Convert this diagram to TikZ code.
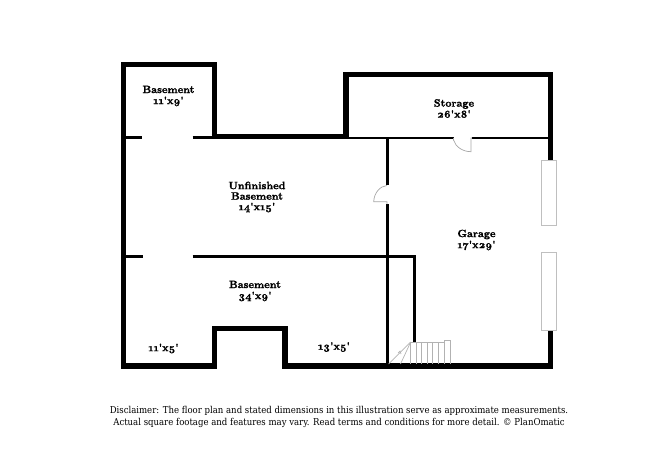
\documentclass[tikz,border=0pt]{standalone}
\usepackage{fontspec}
\newfontfamily\roomfont{Latin Modern Roman}[Numbers=OldStyle,BoldFeatures={FakeBold=1.6}]
\newfontfamily\discfont{DejaVu Serif Condensed}
\tikzset{
  thick wall/.style={draw=black,line width=5.2pt,line cap=butt,line join=miter},
  thin wall/.style={draw=black,line width=2.8pt,line cap=butt},
  door/.style={draw=black!35,line width=0.7pt},
  stair/.style={draw=black!30,line width=0.7pt},
  win/.style={draw=black!25,fill=white,line width=0.8pt},
  room/.style={font=\roomfont\bfseries\fontsize{10.6}{10.5}\selectfont,align=center,inner sep=0pt,text=black},
  disc/.style={font=\discfont\fontsize{9.5}{12.5}\selectfont,align=center,inner sep=0pt,text=black}
}
\begin{document}
\begin{tikzpicture}[x=1pt,y=-1pt]
\useasboundingbox (0,0) rectangle (650,473);
% outer walls
\draw[thick wall] (214.3,136.6) -- (214.3,64.2) -- (123.3,64.2) -- (123.3,366) -- (214.3,366) -- (214.3,328.2) -- (285,328.2) -- (285,366) -- (550.8,366) -- (550.8,330);
\draw[thick wall] (211.7,136.6) -- (345.9,136.6) -- (345.9,74.8) -- (550.8,74.8) -- (550.8,160.5);
% thin walls
\draw[thin wall] (126,137.8) -- (142,137.8);
\draw[thin wall] (192.5,137.8) -- (212,137.8);
\draw[thin wall] (348,138) -- (453.5,138);
\draw[thin wall] (471.5,138) -- (548.5,138);
\draw[thin wall] (387.7,138) -- (387.7,185);
\draw[thin wall] (387.7,204) -- (387.7,364);
\draw[thin wall] (126,256.4) -- (142.5,256.4);
\draw[thin wall] (192.7,256.4) -- (415.6,256.4);
\draw[thin wall] (414.2,255) -- (414.2,341.5);
% doors
\draw[door] (453.5,138) -- (453.5,140) .. controls (455.5,147) and (463,151.7) .. (471,151.7) -- (471,138) -- (472,138);
\draw[door] (387,185.5) .. controls (380,186) and (374,193) .. (373.7,201.7) -- (387,201.7) -- (387,204);
% windows
\draw[win] (541,160.5) rectangle (556.7,225.7);
\draw[win] (541,252) rectangle (556.7,330.3);
% stairs
\draw[stair] (410.7,342) -- (444,342);
\draw[stair] (444,340.3) -- (450,340.3);
\foreach \sx in {410.7,416,421.7,427.3,432.7,438.3,444}{
  \draw[stair] (\sx,342) -- (\sx,364);
}
\draw[stair] (450,340.3) -- (450,364);
\draw[stair] (444,340.3) -- (444,342);
\draw[stair] (410.7,342) -- (388.5,364);
\draw[stair] (410.7,342) -- (400.5,364);
\draw[stair] (398,353) -- (400,351) -- (401,354);
% labels
\node[room] (r1) at (168.5,96) {Basement\\[0.5pt]11'x9'};
\node[room] (r2) at (454,108.5) {Storage\\[0.5pt]26'x8'};
\node[room] (r3) at (257,197) {Unfinished\\Basement\\14'x15'};
\node[room] (r4) at (476.5,240) {Garage\\[0.5pt]17'x29'};
\node[room] (r5) at (255,291) {Basement\\[0.5pt]34'x9'};
\node[room] (r6) at (163.5,348.5) {11'x5'};
\node[room] (r7) at (334,347) {13'x5'};
\node[disc] (d) at (339,417) {Disclaimer: The floor plan and stated dimensions in this illustration serve as approximate measurements.\\Actual square footage and features may vary. Read terms and conditions for more detail. © PlanOmatic};
\end{tikzpicture}
\end{document}
